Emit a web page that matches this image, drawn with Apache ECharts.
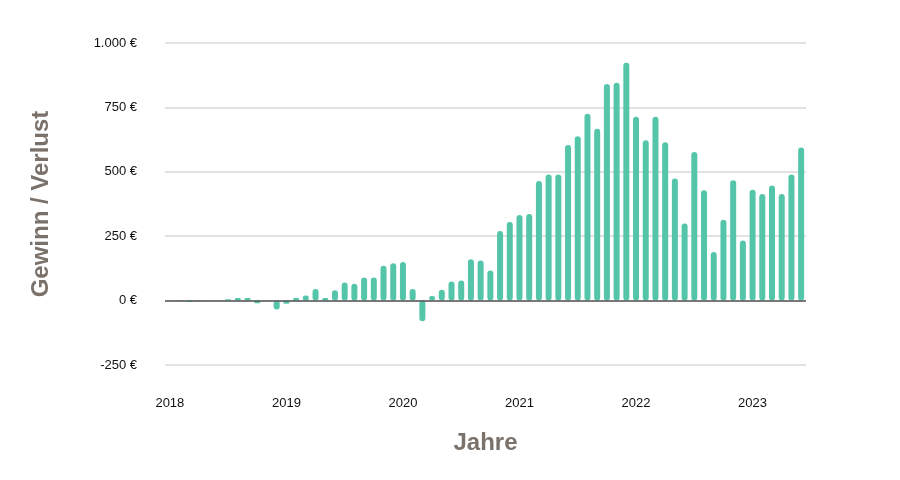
<!DOCTYPE html><html><head><meta charset="utf-8"><script src="https://cdn.jsdelivr.net/npm/echarts@6/dist/echarts.min.js"></script></head><body style="margin:0;background:#fff"><div id="c" style="width:900px;height:480px"></div><script>
const years=[2018,2019,2020,2021,2022,2023];
const v2018=[0,2,-5,2,0,0,5,10,10,-10,0,-35];
const v2019=[-12,10,20,45,10,40,70,65,90,90,135,145];
const v2020=[150,45,-80,18,42,74,78,161,156,117,270,305];
const v2021=[332,336,464,490,490,604,638,725,667,841,846,923];
const v2022=[714,622,714,615,474,299,577,428,189,314,467,233];
const v2023=[430,414,447,414,490,594];
const values=[...v2018,...v2019,...v2020,...v2021,...v2022,...v2023];
const months=[];years.forEach(y=>{for(let m=1;m<=12;m++)months.push(y+'-'+m)});
months.length=values.length;
const grey='#7a716b';
const ch=echarts.init(document.getElementById('c'));
ch.setOption({
grid:{left:165,right:94,top:43,bottom:115},
xAxis:{type:'category',data:months,name:'Jahre',nameLocation:'middle',nameGap:66,
 nameTextStyle:{color:grey,fontSize:24,fontWeight:'bold',fontFamily:'Liberation Sans'},
 axisLine:{show:false},axisTick:{show:false},
 axisLabel:{interval:(i,v)=>v.endsWith('-1'),formatter:v=>v.split('-')[0],color:'#111',fontSize:13,margin:32,fontFamily:'Liberation Sans'}},
yAxis:{type:'value',min:-250,max:1000,interval:250,name:'Gewinn / Verlust',nameLocation:'middle',nameGap:112,
 nameTextStyle:{color:grey,fontSize:24,fontWeight:'bold',fontFamily:'Liberation Sans'},
 axisLabel:{formatter:v=>v.toLocaleString('de-DE')+' €',color:'#111',fontSize:13,margin:28,fontFamily:'Liberation Sans'},
 splitLine:{lineStyle:{color:'#d9d9d9',width:1.5}}},
series:[{type:'bar',data:values,barWidth:6,itemStyle:{color:'#55c5aa',borderRadius:3},
 markLine:{silent:true,symbol:'none',label:{show:false},lineStyle:{color:'#555',type:'solid',width:1.5},data:[{yAxis:0}]}}]
});
</script></body></html>
